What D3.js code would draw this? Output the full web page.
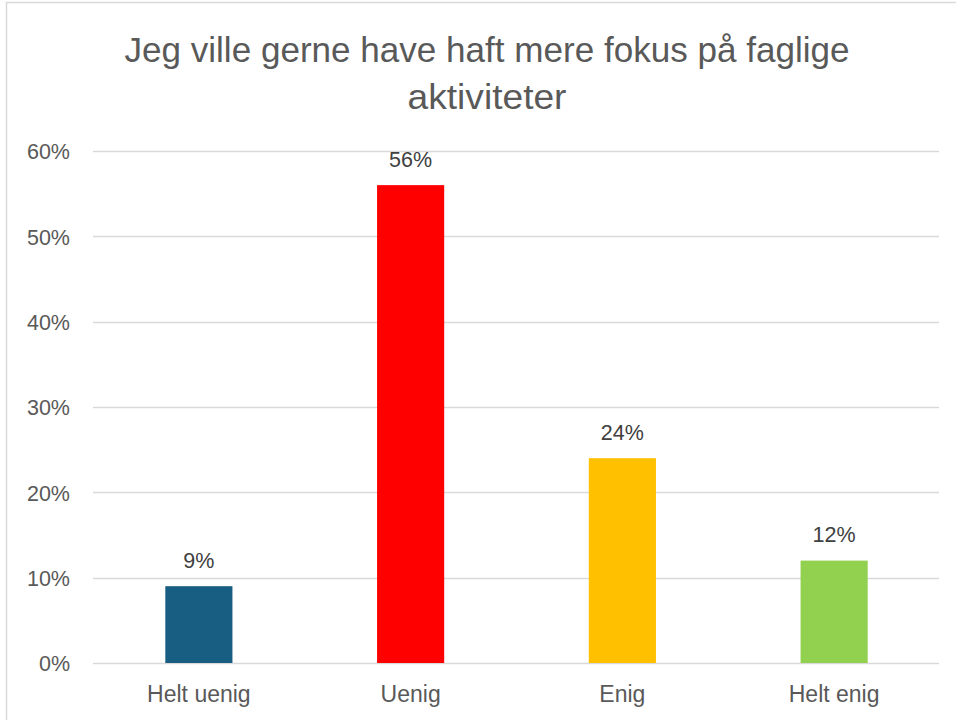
<!DOCTYPE html>
<html><head><meta charset="utf-8">
<script src="https://cdn.jsdelivr.net/npm/d3@7"></script>
<style>body{margin:0;background:#fff;} svg{display:block;}</style>
</head><body>
<svg id="c" width="956" height="720"></svg>
<script>
const titleLines = ["Jeg ville gerne have haft mere fokus på faglige", "aktiviteter"];
const categories = ["Helt uenig", "Uenig", "Enig", "Helt enig"];
const values = [0.09, 0.56, 0.24, 0.12];
const colors = ["#175E82", "#FF0000", "#FFC000", "#92D050"];
const yTicks = [0, 0.1, 0.2, 0.3, 0.4, 0.5, 0.6];

(function () {
const svg = d3.select("#c");
const FONT = "Liberation Sans, Arial, sans-serif";
svg.append("rect").attr("x", 6.5).attr("y", 2.5).attr("width", 960).attr("height", 730)
  .attr("fill", "#fff").attr("stroke", "#d9d9d9").attr("stroke-width", 1.5);

const pLeft = 93, pRight = 940, pTop = 151, pBottom = 663;
const x = d3.scaleBand().domain(categories).range([pLeft, pRight]).paddingInner(0.683).paddingOuter(0.3415);
const y = d3.scaleLinear().domain([0, 0.6]).range([pBottom, pTop]);

const g = svg.append("g");
g.append("g").selectAll("line").data(yTicks).join("line")
  .attr("x1", pLeft).attr("x2", pRight - 1)
  .attr("y1", d => Math.round(y(d)) + 0.5).attr("y2", d => Math.round(y(d)) + 0.5)
  .attr("stroke", "#d9d9d9").attr("stroke-width", 1.5);

const yAxis = d3.axisLeft(y).tickValues(yTicks).tickFormat(d3.format(".0%")).tickSize(0).tickPadding(0);
const ya = svg.append("g").attr("transform", `translate(70,0)`).call(yAxis);
ya.select(".domain").remove();
ya.selectAll("text").attr("font-family", FONT).attr("font-size", 21.5).attr("fill", "#595959")
  .attr("dy", "0.36em");

g.append("g").selectAll("rect").data(values).join("rect")
  .attr("x", (d, i) => x(categories[i]))
  .attr("width", x.bandwidth())
  .attr("y", d => y(d))
  .attr("height", d => y(0) - y(d))
  .attr("fill", (d, i) => colors[i]);

g.append("g").selectAll("text").data(values).join("text")
  .attr("x", (d, i) => x(categories[i]) + x.bandwidth() / 2)
  .attr("y", d => y(d) - 18.5)
  .attr("text-anchor", "middle")
  .attr("font-family", FONT).attr("font-size", 21.5).attr("fill", "#404040")
  .text(d => d3.format(".0%")(d));

const xAxis = d3.axisBottom(x).tickSize(0).tickPadding(0);
const xa = svg.append("g").attr("transform", `translate(0,${pBottom})`).call(xAxis);
xa.select(".domain").remove();
xa.selectAll("text").attr("font-family", FONT).attr("font-size", 23).attr("fill", "#595959")
  .attr("dy", null).attr("y", 39);

const titleWidths = [725, 159];
svg.append("g").selectAll("text").data(titleLines).join("text")
  .attr("x", 487).attr("y", (d, i) => 61.5 + i * 47)
  .attr("text-anchor", "middle")
  .attr("font-family", FONT)
  .attr("font-size", 35).attr("fill", "#595959")
  .attr("textLength", (d, i) => titleWidths[i]).attr("lengthAdjust", "spacingAndGlyphs")
  .text(d => d);
})();
</script>
</body></html>
